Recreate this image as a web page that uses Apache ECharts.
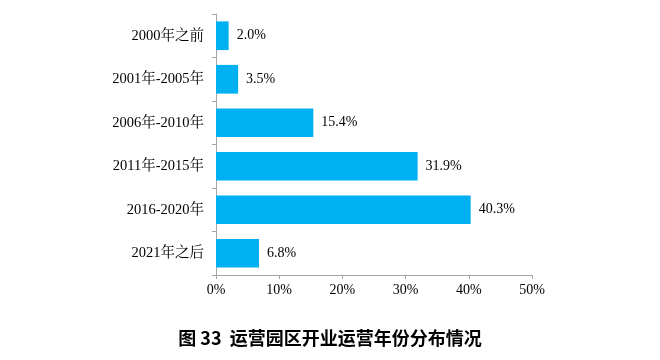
<!DOCTYPE html>
<html><head><meta charset="utf-8">
<script src="https://cdn.jsdelivr.net/npm/echarts@6/dist/echarts.min.js"></script>
<style>html,body{margin:0;padding:0;background:#fff}#c{width:660px;height:360px}</style>
</head><body><div id="c"></div>
<script>
const categories = ['2000年之前','2001年-2005年','2006年-2010年','2011年-2015年','2016-2020年','2021年之后'];
const values = [2.0, 3.5, 15.4, 31.9, 40.3, 6.8];
const xTicks = [0, 10, 20, 30, 40, 50];
const title = '图 33  运营园区开业运营年份分布情况';
const chart = echarts.init(document.getElementById('c'));
const serif = '"Liberation Serif", "Times New Roman", "Noto Serif CJK SC", serif';
chart.setOption({
  animation: false,
  title: {text: title, left: 'center', top: 324, textStyle: {fontFamily: '"Noto Sans CJK SC", sans-serif', fontSize: 18, fontWeight: 'bold', color: '#000'}},
  grid: {left: 216, right: 128, top: 14, bottom: 85},
  xAxis: {type: 'value', min: xTicks[0], max: xTicks[xTicks.length-1], interval: 10,
    axisLine: {show: true, lineStyle: {color: '#a6a6a6'}},
    axisTick: {show: true, length: 4, lineStyle: {color: '#a6a6a6'}},
    splitLine: {show: false},
    axisLabel: {formatter: v => v + '%', fontFamily: serif, fontSize: 14, color: '#000', margin: 8}},
  yAxis: {type: 'category', data: categories, inverse: true,
    axisLine: {show: true, lineStyle: {color: '#a6a6a6'}},
    axisTick: {show: true, length: 4, lineStyle: {color: '#a6a6a6'}},
    axisLabel: {fontFamily: serif, fontSize: 14.5, color: '#000', margin: 12}},
  series: [{type: 'bar', data: values, barWidth: '66%', itemStyle: {color: '#00B0F0'},
    label: {show: true, position: 'right', distance: 8, formatter: p => p.value.toFixed(1) + '%', fontFamily: serif, fontSize: 14, color: '#000'}}]
});
</script></body></html>
